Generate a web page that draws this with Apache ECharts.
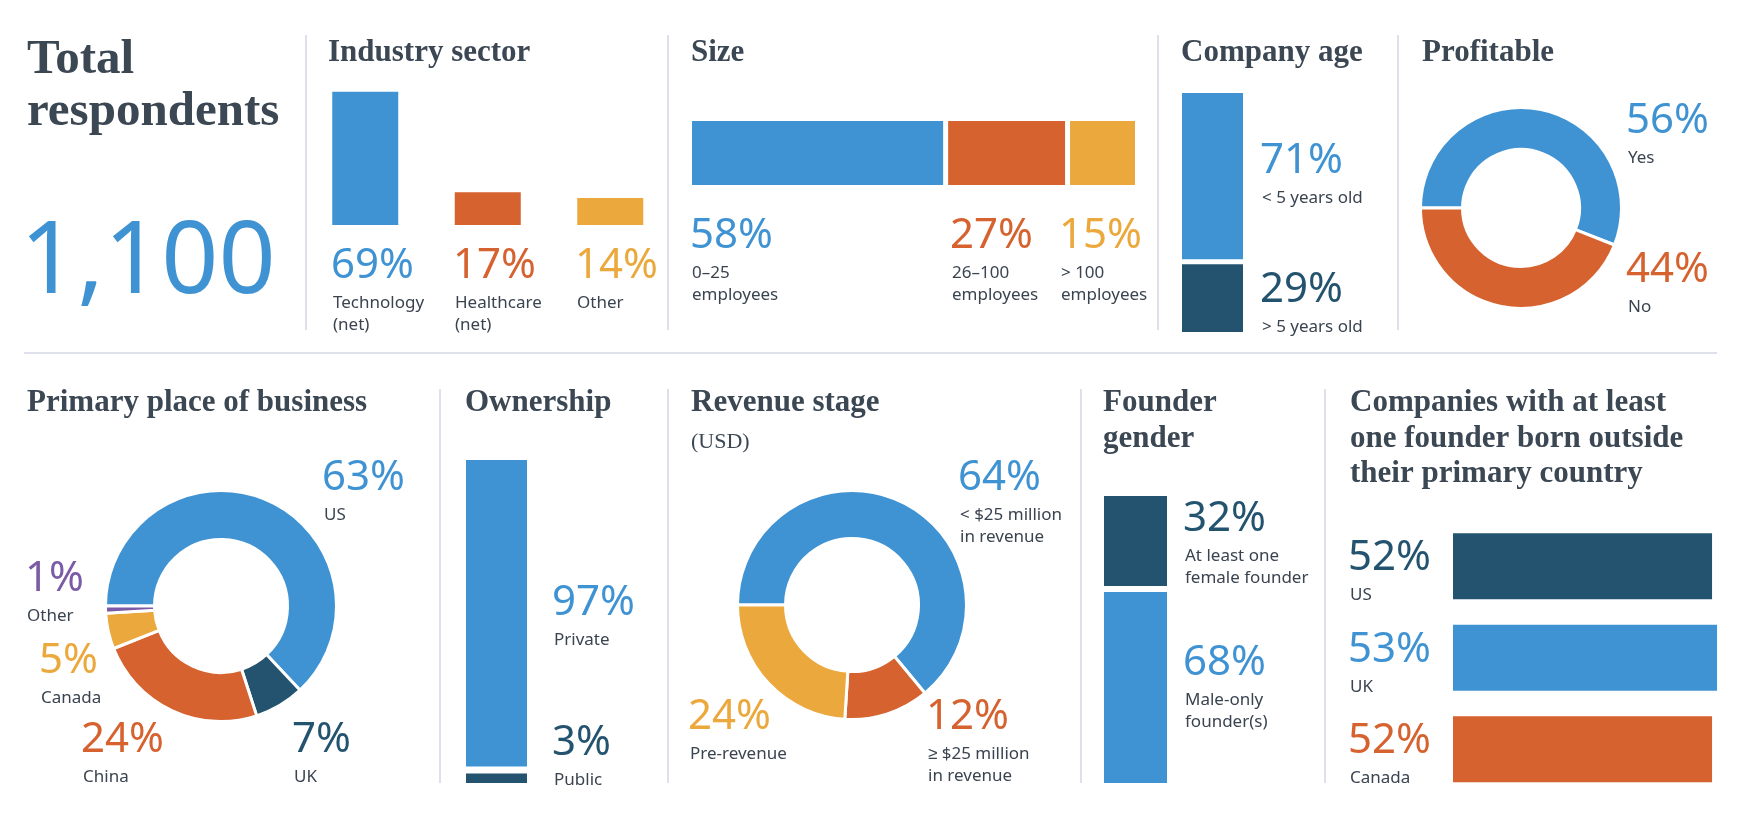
<!DOCTYPE html>
<html>
<head>
<meta charset="utf-8">
<title>Survey respondents</title>
<script src="https://cdn.jsdelivr.net/npm/echarts@6/dist/echarts.min.js"></script>
<style>
    html, body { margin: 0; padding: 0; background: #fff; }
    #chart { width: 1742px; height: 818px; }
</style>
</head>
<body>
<div id="chart"></div>
<script>
    // total respondents
    const totalRespondents = 1100;

    // industry sector
    const industryLabels = ['Technology\n(net)', 'Healthcare\n(net)', 'Other'];
    const industryValues = [69, 17, 14];

    // size
    const sizeLabels = ['0–25\nemployees', '26–100\nemployees', '> 100\nemployees'];
    const sizeValues = [58, 27, 15];

    // company age
    const ageLabels = ['< 5 years old', '> 5 years old'];
    const ageValues = [71, 29];

    // profitable
    const profitLabels = ['Yes', 'No'];
    const profitValues = [56, 44];

    // primary place of business
    const placeLabels = ['US', 'UK', 'China', 'Canada', 'Other'];
    const placeValues = [63, 7, 24, 5, 1];

    // ownership
    const ownerLabels = ['Private', 'Public'];
    const ownerValues = [97, 3];

    // revenue stage (USD)
    const revenueLabels = ['< $25 million\nin revenue', '≥ $25 million\nin revenue', 'Pre-revenue'];
    const revenueValues = [64, 12, 24];

    // founder gender
    const genderLabels = ['At least one\nfemale founder', 'Male-only\nfounder(s)'];
    const genderValues = [32, 68];

    // at least one founder born outside their primary country
    const foreignLabels = ['US', 'UK', 'Canada'];
    const foreignValues = [52, 53, 52];

    const BLUE = '#4093d3';
    const ORANGE = '#d5622f';
    const YELLOW = '#eba83c';
    const NAVY = '#23536f';
    const PURPLE = '#7b5aa6';
    const TITLE = '#3c4754';
    const TEXT = '#3a4450';
    const RULE = '#d3d7e5';
    const SANS = "'Noto Sans', sans-serif";
    const SERIF = "'Liberation Serif', serif";

    const industryColors = [BLUE, ORANGE, YELLOW];
    const sizeColors = [BLUE, ORANGE, YELLOW];
    const ageColors = [BLUE, NAVY];
    const profitColors = [BLUE, ORANGE];
    const placeColors = [BLUE, NAVY, ORANGE, YELLOW, PURPLE];
    const ownerColors = [BLUE, NAVY];
    const revenueColors = [BLUE, ORANGE, YELLOW];
    const genderColors = [NAVY, BLUE];
    const foreignColors = [NAVY, BLUE, ORANGE];

    // ---------- text + rules (graphic) ----------
    const elements = [];

    // baseline -> middle of the em box
    function text(x, baseline, str, size, color, family, weight) {
        const k = family === SERIF ? 0.29 : 0.285;
        elements.push({
            type: 'text',
            x: x,
            y: baseline - k * size,
            silent: true,
            style: {
                text: str,
                fill: color,
                fontSize: size,
                fontFamily: family,
                fontWeight: weight || 'normal',
                align: 'left',
                verticalAlign: 'middle'
            }
        });
    }

    function title(x, baseline, str, size) {
        text(x, baseline, str, size || 31, TITLE, SERIF, 'bold');
    }

    function valueLabel(pos, value, caption, color) {
        text(pos[0] - 2, pos[1], value + '%', 42, color, SANS);
        caption.split('\n').forEach(function (line, j) {
            text(pos[0], pos[1] + 30 + j * 22, line, 17, TEXT, SANS);
        });
    }

    function rule(x1, y1, x2, y2) {
        elements.push({
            type: 'line',
            silent: true,
            shape: {x1: x1, y1: y1, x2: x2, y2: y2},
            style: {stroke: RULE, lineWidth: 1.5}
        });
    }

    function labels(positions, values, captions, colors) {
        values.forEach(function (v, i) {
            valueLabel(positions[i], v, captions[i], colors[i]);
        });
    }

    // titles
    title(27, 75, 'Total', 49);
    title(27, 127, 'respondents', 49);
    text(20, 293, totalRespondents.toLocaleString('en-US'), 100, BLUE, SANS);
    title(328, 62, 'Industry sector');
    title(691, 62, 'Size');
    title(1181, 62, 'Company age');
    title(1422, 62, 'Profitable');
    title(27, 412, 'Primary place of business');
    title(465, 412, 'Ownership');
    title(691, 412, 'Revenue stage');
    text(691, 449, '(USD)', 22, TITLE, SERIF);
    title(1103, 412, 'Founder');
    title(1103, 448, 'gender');
    title(1350, 412, 'Companies with at least');
    title(1350, 448, 'one founder born outside');
    title(1350, 483, 'their primary country');

    // value labels
    labels([[333, 278], [455, 278], [577, 278]], industryValues, industryLabels, industryColors);
    labels([[692, 248], [952, 248], [1061, 248]], sizeValues, sizeLabels, sizeColors);
    labels([[1262, 173], [1262, 302]], ageValues, ageLabels, ageColors);
    labels([[1628, 133], [1628, 282]], profitValues, profitLabels, profitColors);
    labels([[324, 490], [294, 752], [83, 752], [41, 673], [27, 591]], placeValues, placeLabels, placeColors);
    labels([[554, 615], [554, 755]], ownerValues, ownerLabels, ownerColors);
    labels([[960, 490], [928, 729], [690, 729]], revenueValues, revenueLabels, revenueColors);
    labels([[1185, 531], [1185, 675]], genderValues, genderLabels, genderColors);
    labels([[1350, 570], [1350, 662], [1350, 753]], foreignValues, foreignLabels, foreignColors);

    // dividers
    [306, 668, 1158, 1398].forEach(function (x) { rule(x, 35, x, 330); });
    [440, 668, 1081, 1325].forEach(function (x) { rule(x, 389, x, 783); });
    rule(24, 353, 1717, 353);

    // ---------- series helpers ----------
    function colored(values, colors) {
        return values.map(function (v, i) {
            return {value: v, itemStyle: {color: colors[i]}};
        });
    }

    // stacked segments: [start, end, index]
    function segments(values, colors) {
        let acc = 0;
        return values.map(function (v, i) {
            const item = {value: [acc, acc + v, i], itemStyle: {color: colors[i]}};
            acc += v;
            return item;
        });
    }

    function segmentRenderer(horizontal, gap) {
        return function (params, api) {
            const cs = params.coordSys;
            const i = api.value(2);
            if (horizontal) {
                const x0 = api.coord([api.value(0), 0])[0] + i * gap;
                const x1 = api.coord([api.value(1), 0])[0] + i * gap;
                return {
                    type: 'rect',
                    shape: {x: x0, y: cs.y, width: x1 - x0, height: cs.height},
                    style: {fill: api.visual('color')}
                };
            }
            const y0 = api.coord([0, api.value(0)])[1] + i * gap;
            const y1 = api.coord([0, api.value(1)])[1] + i * gap;
            return {
                type: 'rect',
                shape: {x: cs.x, y: y0, width: cs.width, height: y1 - y0},
                style: {fill: api.visual('color')}
            };
        };
    }

    function stacked(axisIdx, values, colors, horizontal, gap) {
        return {
            type: 'custom',
            xAxisIndex: axisIdx,
            yAxisIndex: axisIdx,
            silent: true,
            clip: false,
            renderItem: segmentRenderer(horizontal, gap),
            data: segments(values, colors)
        };
    }

    function donut(center, radius, names, values, colors) {
        return {
            type: 'pie',
            center: center,
            radius: radius,
            startAngle: 180,
            clockwise: true,
            silent: true,
            avoidLabelOverlap: false,
            label: {show: false},
            labelLine: {show: false},
            emphasis: {disabled: true},
            itemStyle: {borderColor: '#fff', borderWidth: 3},
            data: values.map(function (v, i) {
                return {name: names[i], value: v, itemStyle: {color: colors[i]}};
            })
        };
    }

    const hidden = {show: false};

    const option = {
        animation: false,
        backgroundColor: '#fff',
        grid: [
            {left: 304, top: 32, width: 367.5, height: 193},      // industry
            {left: 692, top: 121, width: 433, height: 64},        // size
            {left: 1182, top: 93, width: 61, height: 234},        // age
            {left: 466, top: 460, width: 61, height: 316},        // ownership
            {left: 1104, top: 496, width: 63, height: 281},       // gender
            {left: 1453, top: 520.5, width: 274, height: 274.5}   // foreign founders
        ],
        xAxis: [
            Object.assign({gridIndex: 0, type: 'category', data: industryLabels}, hidden),
            Object.assign({gridIndex: 1, type: 'value', min: 0, max: 100}, hidden),
            Object.assign({gridIndex: 2, type: 'value', min: 0, max: 1}, hidden),
            Object.assign({gridIndex: 3, type: 'value', min: 0, max: 1}, hidden),
            Object.assign({gridIndex: 4, type: 'value', min: 0, max: 1}, hidden),
            Object.assign({gridIndex: 5, type: 'value', min: 0, max: 55}, hidden)
        ],
        yAxis: [
            Object.assign({gridIndex: 0, type: 'value', min: 0, max: 100}, hidden),
            Object.assign({gridIndex: 1, type: 'value', min: 0, max: 1}, hidden),
            Object.assign({gridIndex: 2, type: 'value', min: 0, max: 100, inverse: true}, hidden),
            Object.assign({gridIndex: 3, type: 'value', min: 0, max: 100, inverse: true}, hidden),
            Object.assign({gridIndex: 4, type: 'value', min: 0, max: 100, inverse: true}, hidden),
            Object.assign({gridIndex: 5, type: 'category', data: foreignLabels, inverse: true}, hidden)
        ],
        series: [
            {
                type: 'bar',
                xAxisIndex: 0,
                yAxisIndex: 0,
                barWidth: 66,
                silent: true,
                data: colored(industryValues, industryColors)
            },
            stacked(1, sizeValues, sizeColors, true, 5),
            stacked(2, ageValues, ageColors, false, 5),
            stacked(3, ownerValues, ownerColors, false, 7),
            stacked(4, genderValues, genderColors, false, 6),
            {
                type: 'bar',
                xAxisIndex: 5,
                yAxisIndex: 5,
                barWidth: 66,
                silent: true,
                data: colored(foreignValues, foreignColors)
            },
            donut([1521, 208], [58.5, 100.5], profitLabels, profitValues, profitColors),
            donut([221, 606], [66.5, 115.5], placeLabels, placeValues, placeColors),
            donut([852, 605], [66.5, 114.5], revenueLabels, revenueValues, revenueColors)
        ],
        graphic: {elements: elements}
    };

    const chart = echarts.init(document.getElementById('chart'));
    chart.setOption(option);
</script>
</body>
</html>
